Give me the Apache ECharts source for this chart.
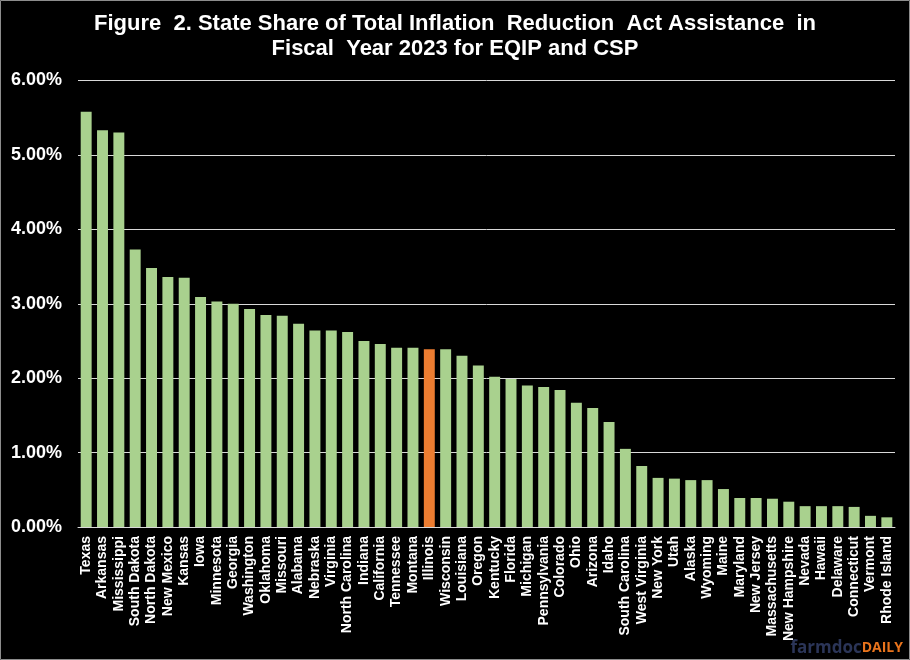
<!DOCTYPE html>
<html>
<head>
<meta charset="utf-8">
<script src="https://cdn.jsdelivr.net/npm/echarts@6/dist/echarts.min.js"></script>
<style>
  html, body { margin: 0; padding: 0; background: #000; }
  #chart { width: 910px; height: 660px; }
</style>
</head>
<body>
<div id="chart"></div>
<script>
// Data (percent share of total IRA assistance, FY2023, EQIP + CSP)
const states = ["Texas","Arkansas","Mississippi","South Dakota","North Dakota","New Mexico","Kansas","Iowa","Minnesota","Georgia","Washington","Oklahoma","Missouri","Alabama","Nebraska","Virginia","North Carolina","Indiana","California","Tennessee","Montana","Illinois","Wisconsin","Louisiana","Oregon","Kentucky","Florida","Michigan","Pennsylvania","Colorado","Ohio","Arizona","Idaho","South Carolina","West Virginia","New York","Utah","Alaska","Wyoming","Maine","Maryland","New Jersey","Massachusetts","New Hampshire","Nevada","Hawaii","Delaware","Connecticut","Vermont","Rhode Island"];
const shares = [5.58,5.33,5.30,3.73,3.48,3.36,3.35,3.09,3.03,3.00,2.93,2.85,2.84,2.73,2.64,2.64,2.62,2.50,2.46,2.41,2.41,2.39,2.39,2.30,2.17,2.02,1.99,1.90,1.88,1.84,1.67,1.60,1.41,1.05,0.82,0.66,0.65,0.63,0.63,0.51,0.39,0.39,0.38,0.34,0.28,0.28,0.28,0.27,0.15,0.13];
const highlightState = "Illinois";
const yTicks = [0, 1, 2, 3, 4, 5, 6];

const chart = echarts.init(document.getElementById('chart'));
const barData = states.map((s, i) => s === highlightState
  ? { value: shares[i], itemStyle: { color: '#ED7D31' } }
  : shares[i]);

chart.setOption({
  backgroundColor: '#000',
  animation: false,
  title: {
    text: 'Figure  2. State Share of Total Inflation  Reduction  Act Assistance  in\nFiscal  Year 2023 for EQIP and CSP',
    left: 'center',
    top: 6,
    textStyle: {
      color: '#fff',
      fontFamily: '"Liberation Sans Narrow", "Arial Narrow", "Liberation Sans", Arial, sans-serif',
      fontWeight: 'bold',
      fontSize: 22,
      lineHeight: 25
    }
  },
  grid: { left: 78, right: 15, top: 80.5, bottom: 133, containLabel: false },
  xAxis: {
    type: 'category',
    data: states,
    axisLine: { show: true, lineStyle: { color: '#d9d9d9', width: 1 } },
    axisTick: { show: false },
    axisLabel: {
      interval: 0,
      rotate: 90,
      color: '#fff',
      fontFamily: '"Liberation Sans", Arial, sans-serif',
      fontWeight: 'bold',
      fontSize: 14,
      margin: 9
    }
  },
  yAxis: {
    type: 'value',
    min: yTicks[0],
    max: yTicks[yTicks.length - 1],
    interval: 1,
    axisLine: { show: false },
    axisTick: { show: false },
    splitLine: { show: true, lineStyle: { color: '#d9d9d9', width: 1 } },
    axisLabel: {
      color: '#fff',
      fontFamily: '"Liberation Sans", Arial, sans-serif',
      fontWeight: 'bold',
      fontSize: 18,
      margin: 16,
      formatter: v => v.toFixed(2) + '%'
    }
  },
  series: [{
    type: 'bar',
    data: barData,
    barCategoryGap: '33%',
    itemStyle: { color: '#A9D18E' }
  }],
  graphic: [
    {
      type: 'rect',
      shape: { x: 0.5, y: 0.5, width: 909, height: 659 },
      style: { fill: 'none', stroke: '#8c8c8c', lineWidth: 1 },
      silent: true
    },
    {
      type: 'text',
      right: 7,
      bottom: 3,
      style: {
        text: '{a|farmdoc}{b|DAILY}',
        rich: {
          a: { fill: '#2b3558', fontSize: 17, fontWeight: 'bold', fontFamily: '"Open Sans", "Noto Sans", sans-serif' },
          b: { fill: '#e8731c', fontSize: 14, fontWeight: 'bold', fontFamily: '"Open Sans", "Noto Sans", sans-serif' }
        }
      }
    }
  ]
});
</script>
</body>
</html>
